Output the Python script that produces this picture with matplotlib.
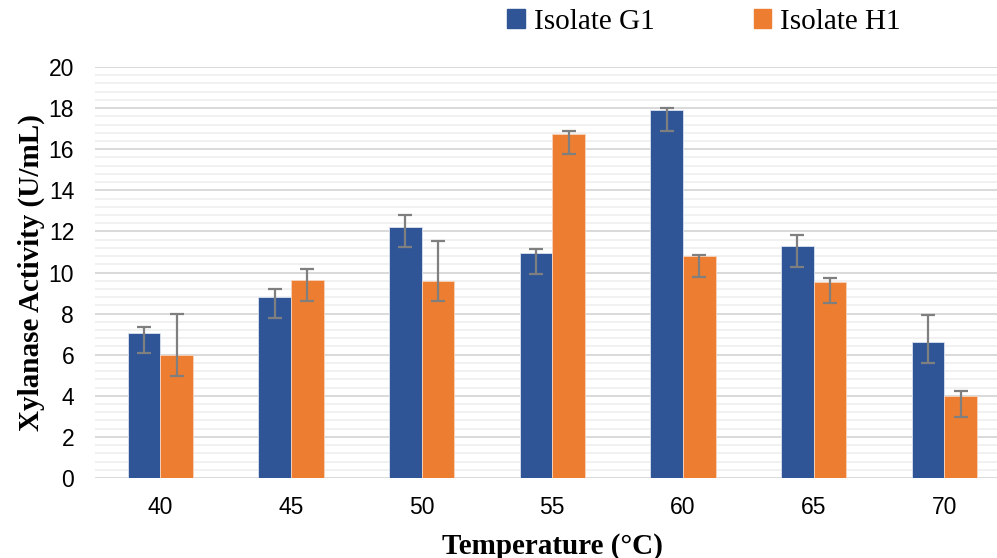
from matplotlib import pyplot as plt
from matplotlib.ticker import MultipleLocator
from matplotlib.patches import Patch
import numpy as np

# data
temps = ['40', '45', '50', '55', '60', '65', '70']
g1 = [7.07, 8.79, 12.21, 10.93, 17.89, 11.29, 6.60]
g1_err_low = [0.99, 0.99, 0.98, 0.99, 0.99, 1.01, 1.00]
g1_err_high = [0.29, 0.39, 0.57, 0.20, 0.10, 0.53, 1.35]
h1 = [5.97, 9.62, 9.60, 16.74, 10.78, 9.52, 3.99]
h1_err_low = [0.99, 0.99, 0.99, 0.99, 0.98, 0.99, 1.01]
h1_err_high = [2.01, 0.53, 1.92, 0.15, 0.09, 0.23, 0.23]

blue = '#2F5597'
orange = '#ED7D31'
errc = '#7F7F7F'

fig = plt.figure(figsize=(9.97, 5.58), dpi=100)
# axes extends a bit past the right edge like the original crop
ax = fig.add_axes([95/997, 80/558, 914.6/997, 411/558])

x = np.arange(len(temps))
w = 0.25
ax.bar(x - w/2, g1, w, color=blue, edgecolor='#dce3f0', linewidth=0.6, zorder=3)
ax.bar(x + w/2, h1, w, color=orange, edgecolor='#f6d3bd', linewidth=0.6, zorder=3)
ax.errorbar(x - w/2, g1, yerr=[g1_err_low, g1_err_high], fmt='none', ecolor=errc,
            elinewidth=1.6, capsize=5, capthick=1.6, zorder=4)
ax.errorbar(x + w/2, h1, yerr=[h1_err_low, h1_err_high], fmt='none', ecolor=errc,
            elinewidth=1.6, capsize=5, capthick=1.6, zorder=4)

ax.set_xlim(-0.5, len(temps) - 0.5)
ax.set_ylim(0, 20)
ax.set_xticks(x)
ax.set_xticklabels(temps)
ax.yaxis.set_major_locator(MultipleLocator(2))
ax.yaxis.set_minor_locator(MultipleLocator(0.4))
ax.grid(which='major', axis='y', color='#d9d9d9', linewidth=1.4, zorder=0)
ax.grid(which='minor', axis='y', color='#efefef', linewidth=1.2, zorder=0)
ax.set_axisbelow(True)
for s in ax.spines.values():
    s.set_visible(False)
ax.tick_params(which='both', length=0)
ax.tick_params(axis='y', pad=15, labelsize=16.5)
ax.tick_params(axis='x', pad=13, labelsize=16.5)
for lab in ax.get_xticklabels() + ax.get_yticklabels():
    lab.set_fontfamily('Liberation Sans')

ax.set_xlabel('Temperature (\u00b0C)', fontfamily='Liberation Serif', fontweight='bold',
              fontsize=21, labelpad=10)
ax.set_ylabel('Xylanase Activity (U/mL)', fontfamily='Liberation Serif', fontweight='bold',
              fontsize=21, labelpad=3)

handles = [Patch(color=blue, label='Isolate G1'), Patch(color=orange, label='Isolate H1')]
fig.legend(handles=handles, loc='center', bbox_to_anchor=(704/997, 1 - 22/558), ncol=2,
           frameon=False, handlelength=0.6, handleheight=0.6, handletextpad=0.3,
           columnspacing=3.4, prop={'family': 'Liberation Serif', 'size': 21})

fig.savefig('out.png', dpi=100)
